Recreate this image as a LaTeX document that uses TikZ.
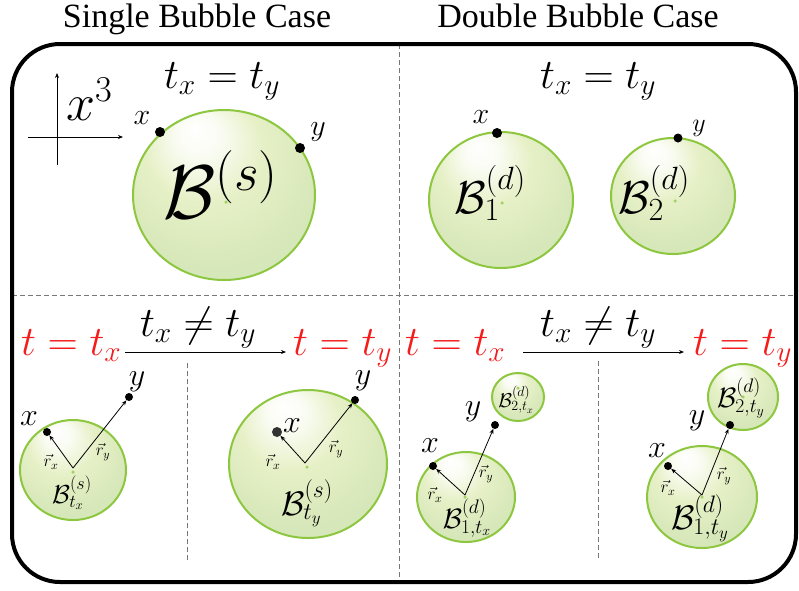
\documentclass[tikz,border=0pt]{standalone}
\usepackage{fix-cm}
\usepackage{fontspec}
\newfontfamily\titlefont{Liberation Serif}
\usetikzlibrary{shapes.geometric,arrows.meta}
\definecolor{bubedge}{HTML}{8DC63F}
\definecolor{bubfill}{HTML}{D6E7B9}
\definecolor{bubhalo}{HTML}{E6F0C6}
\definecolor{sepgray}{HTML}{777777}
\definecolor{tred}{HTML}{F41C1C}
\pgfdeclareradialshading{bubbleshade}{\pgfpoint{-8bp}{20bp}}{color(0bp)=(white); color(6bp)=(white!80!bubhalo); color(16bp)=(bubhalo); color(30bp)=(bubfill); color(50bp)=(bubfill)}
\newcommand\fsz[1]{\fontsize{#1}{#1}\selectfont}
\tikzset{
  bubble/.style={ellipse, draw=bubedge, line width=2pt, shade, shading=bubbleshade, inner sep=0pt},
  ptdot/.style={circle, fill=black, inner sep=0pt, minimum size=#1},
  ptdot/.default=8pt,
  cdot/.style={circle, fill=bubedge!80, inner sep=0pt, minimum size=3.5pt},
  title/.style={font=\titlefont\fsz{34}, inner sep=0pt, anchor=base},
  eqlab/.style={font=\fsz{42}, inner sep=0pt},
  redlab/.style={eqlab, text=tred, anchor=base west},
  vec/.style={line width=0.8pt, -{Stealth[length=5pt,width=4pt]}},
  sep/.style={sepgray, line width=0.8pt, dash pattern=on 5pt off 3pt},
}
\begin{document}
\begin{tikzpicture}[x=1pt,y=-1pt]
\useasboundingbox (0,0) rectangle (799,590);

% titles and frame
\node[title] (ttl1) at (197,27) {Single Bubble Case};
\node[title] (ttl2) at (578,27) {Double Bubble Case};
\draw[sep] (399,44) -- (399,582);
\draw[sep] (12,295) -- (796,295);
\draw[line width=4pt, rounded corners=48pt] (12,44) rectangle (796,582);

% axes
\coordinate (axd) at (57,165);
\coordinate (axu) at (57,73);
\coordinate (axl) at (28,137);
\coordinate (axr) at (123,137);
\draw[line width=0.8pt, -{Stealth[length=5pt,width=4pt]}] (axd) -- (axu);
\draw[line width=0.8pt, -{Stealth[length=5pt,width=4pt]}] (axl) -- (axr);
\node[font=\fsz{52}, inner sep=0pt, anchor=base west] (xthree) at (66,120) {$x^3$};

% single bubble, equal times
\node[eqlab, anchor=base] (eqs) at (222,88) {$t_x=t_y$};
\node[bubble, minimum width=182pt, minimum height=170pt] (bs) at (224,195) {};
\node[cdot] (cs) at (226,202) {};
\node[font=\fsz{76}, inner sep=0pt, anchor=base west] (lbs) at (163,218) {$\mathcal{B}^{(s)}$};
\node[ptdot=10pt] (psx) at (160,132) {};
\node[ptdot=10pt] (psy) at (300,148) {};
\node[font=\fsz{30}, inner sep=0pt] (lsx) at (142,118) {$x$};
\node[font=\fsz{30}, inner sep=0pt] (lsy) at (318,132) {$y$};

% double bubble, equal times
\node[eqlab, anchor=base] (eqd) at (598,88) {$t_x=t_y$};
\node[bubble, minimum width=144pt, minimum height=136pt] (bd1) at (501,200) {};
\node[bubble, minimum width=124pt, minimum height=116pt] (bd2) at (673,196) {};
\node[cdot] (cd1) at (502,203) {};
\node[cdot] (cd2) at (675,201) {};
\node[font=\fsz{46}, inner sep=0pt] (lbd1) at (490,193) {$\mathcal{B}_1^{(d)}$};
\node[font=\fsz{46}, inner sep=0pt] (lbd2) at (654,193) {$\mathcal{B}_2^{(d)}$};
\node[ptdot=10pt] (pdx) at (497,133) {};
\node[ptdot=9pt] (pdy) at (678,138) {};
\node[font=\fsz{30}, inner sep=0pt] (ldx) at (481,117) {$x$};
\node[font=\fsz{26}, inner sep=0pt] (ldy) at (699,128) {$y$};

% single bubble, unequal times
\node[redlab] (stx) at (21,355) {$t=t_x$};
\node[redlab] (sty) at (293,355) {$t=t_y$};
\coordinate (sa) at (125,352);
\coordinate (sb) at (286,352);
\draw[line width=0.8pt, -{Stealth[length=5pt,width=4pt]}] (sa) -- (sb);
\node[eqlab, anchor=base] (neqs) at (198,336) {$t_x\neq t_y$};
\draw[sep] (187,363) -- (187,562);

\node[bubble, minimum width=106pt, minimum height=100pt] (bsa) at (73,470) {};
\node[cdot] (csa) at (73,472) {};
\coordinate (osa) at (73,468);
\node[ptdot] (psax) at (47,432) {};
\node[ptdot] (psay) at (129,397) {};
\draw[vec] (osa) -- (psax);
\draw[vec] (osa) -- (psay);
\node[font=\fsz{32}, inner sep=0pt] (lsax) at (29,419) {$x$};
\node[font=\fsz{32}, inner sep=0pt] (lsay) at (137,382) {$y$};
\node[font=\fsz{17}, inner sep=0pt] (rsax) at (51,462) {$\vec{r}_x$};
\node[font=\fsz{17}, inner sep=0pt] (rsay) at (103,452) {$\vec{r}_y$};
\node[font=\fsz{26}, inner sep=0pt] (lbsa) at (72,493) {$\mathcal{B}_{t_x}^{(s)}$};

\node[bubble, minimum width=158pt, minimum height=148pt] (bsb) at (308,464) {};
\node[cdot] (csb) at (307,467) {};
\coordinate (osb) at (305,463);
\node[ptdot=10pt, fill=black!80] (psbx) at (277,432) {};
\node[ptdot] (psby) at (355,400) {};
\draw[vec] (osb) -- (psbx);
\draw[vec] (osb) -- (psby);
\node[font=\fsz{32}, inner sep=0pt] (lsbx) at (292,426) {$x$};
\node[font=\fsz{32}, inner sep=0pt] (lsby) at (363,381) {$y$};
\node[font=\fsz{17}, inner sep=0pt] (rsbx) at (273,462) {$\vec{r}_x$};
\node[font=\fsz{17}, inner sep=0pt] (rsby) at (336,449) {$\vec{r}_y$};
\node[font=\fsz{34}, inner sep=0pt] (lbsb) at (307,503) {$\mathcal{B}_{t_y}^{(s)}$};

% double bubble, unequal times
\node[redlab] (dtx) at (405,355) {$t=t_x$};
\node[redlab] (dty) at (693,355) {$t=t_y$};
\coordinate (da) at (523,352);
\coordinate (db) at (684,352);
\draw[line width=0.8pt, -{Stealth[length=5pt,width=4pt]}] (da) -- (db);
\node[eqlab, anchor=base] (neqd) at (598,336) {$t_x\neq t_y$};
\draw[sep] (598,361) -- (598,560);

\node[bubble, minimum width=98pt, minimum height=90pt] (bda1) at (466,497) {};
\node[bubble, minimum width=52pt, minimum height=48pt] (bda2) at (518,397) {};
\node[cdot] (cda1) at (465,497) {};
\node[cdot] (cda2) at (518,388) {};
\coordinate (oda) at (465,495);
\node[ptdot] (pdax) at (433,466) {};
\node[ptdot] (pday) at (495,425) {};
\draw[vec] (oda) -- (pdax);
\draw[vec] (oda) -- (pday);
\node[font=\fsz{32}, inner sep=0pt] (ldax) at (430,446) {$x$};
\node[font=\fsz{32}, inner sep=0pt] (lday) at (473,412) {$y$};
\node[font=\fsz{17}, inner sep=0pt] (rdax) at (435,495) {$\vec{r}_x$};
\node[font=\fsz{17}, inner sep=0pt] (rday) at (486,474) {$\vec{r}_y$};
\node[font=\fsz{28}, inner sep=0pt] (lbda1) at (467,518) {$\mathcal{B}_{1,t_x}^{(d)}$};
\node[font=\fsz{20}, inner sep=0pt] (lbda2) at (516,400) {$\mathcal{B}_{2,t_x}^{(d)}$};

\node[bubble, minimum width=110pt, minimum height=102pt] (bdb1) at (702,497) {};
\node[bubble, minimum width=70pt, minimum height=66pt] (bdb2) at (743,397) {};
\node[cdot] (cdb1) at (702,497) {};
\node[cdot] (cdb2) at (743,397) {};
\coordinate (odb) at (702,495);
\node[ptdot] (pdbx) at (668,466) {};
\node[ptdot] (pdby) at (730,425) {};
\draw[vec] (odb) -- (pdbx);
\draw[vec] (odb) -- (pdby);
\node[font=\fsz{32}, inner sep=0pt] (ldbx) at (657,451) {$x$};
\node[font=\fsz{32}, inner sep=0pt] (ldby) at (697,421) {$y$};
\node[font=\fsz{17}, inner sep=0pt] (rdbx) at (668,488) {$\vec{r}_x$};
\node[font=\fsz{17}, inner sep=0pt] (rdby) at (724,476) {$\vec{r}_y$};
\node[font=\fsz{34}, inner sep=0pt] (lbdb1) at (700,518) {$\mathcal{B}_{1,t_y}^{(d)}$};
\node[font=\fsz{28}, inner sep=0pt] (lbdb2) at (741,398) {$\mathcal{B}_{2,t_y}^{(d)}$};
\end{tikzpicture}
\end{document}
